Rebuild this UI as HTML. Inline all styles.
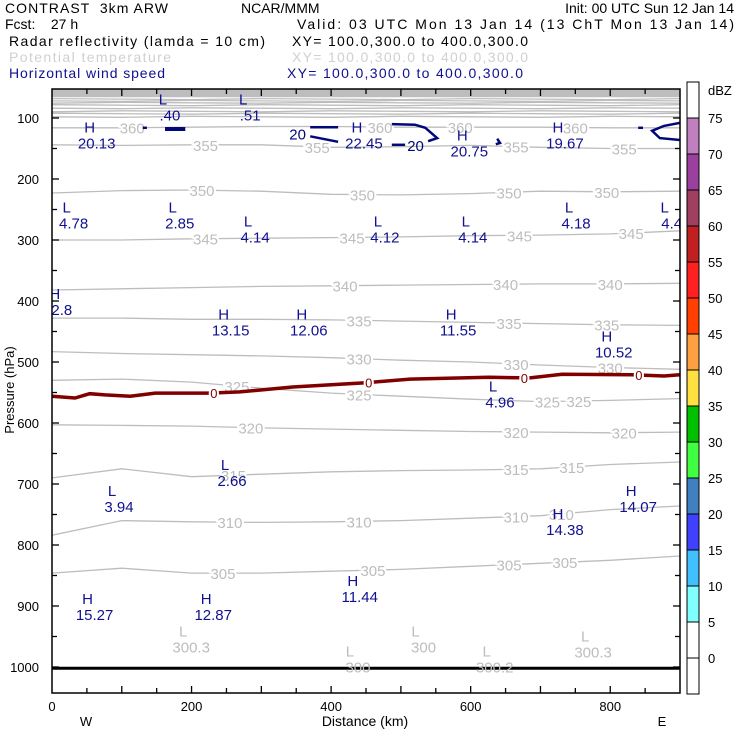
<!DOCTYPE html>
<html><head><meta charset="utf-8">
<style>
html,body{margin:0;padding:0;background:#fff;}
svg{display:block;font-family:"Liberation Sans",sans-serif;}
</style></head>
<body>
<svg id="chart" width="740" height="740" viewBox="0 0 740 740" xmlns="http://www.w3.org/2000/svg">
<g font-size="14">
<text x="5" y="13" xml:space="preserve" textLength="163">CONTRAST  3km ARW</text>
<text x="241" y="13">NCAR/MMM</text>
<text x="734" y="13" text-anchor="end">Init: 00 UTC Sun 12 Jan 14</text>
<text x="5" y="29" xml:space="preserve">Fcst:    27 h</text>
<text x="734" y="29" text-anchor="end" textLength="437">Valid: 03 UTC Mon 13 Jan 14 (13 ChT Mon 13 Jan 14)</text>
<text x="9" y="46" textLength="256">Radar reflectivity (lamda = 10 cm)</text>
<text x="292" y="46" textLength="236">XY= 100.0,300.0 to 400.0,300.0</text>
<text x="9" y="62" fill="#d0d0d0" textLength="162">Potential temperature</text>
<text x="292" y="62" fill="#d0d0d0" textLength="236">XY= 100.0,300.0 to 400.0,300.0</text>
<text x="9" y="78" fill="#101090" textLength="156">Horizontal wind speed</text>
<text x="287" y="78" fill="#101090" textLength="236">XY= 100.0,300.0 to 400.0,300.0</text>
</g>
<g id="plot"></g>
<g id="cbar"></g>
</svg>
<script>
// ---- data ----
const kmGrid = [0,100,200,300,400,500,600,700,800,900];
const thetaLevels = [360,355,350,345,340,335,330,325,320,315,310,305];
const theta360 = [116,116,115,114,114,115,115,115,116,116];
const theta355 = [144,145,144,144,148,147,145,148,150,150];
const theta350 = [223,219,218,220,225,226,224,220,221,220];
const theta345 = [300,300,298,297,296,295,293,292,290,285];
const theta340 = [382,380,378,376,375,374,373,372,372,371];
const theta335 = [428,428,430,430,431,433,435,437,439,440];
const theta330 = [483,486,488,490,493,497,500,505,509,512];
const theta325 = [530,528,533,543,551,556,561,565,563,560];
const theta320 = [603,604,605,608,610,612,614,615,616,615];
const theta315 = [690,675,688,684,680,678,677,675,668,664];
const theta310 = [784,760,762,763,762,760,756,752,742,736];
const theta305 = [846,838,846,846,843,840,835,830,825,818];
const thetaUpper = [69,72,75,79,84,89,93,98];
const thetaLabelKm = {360:[115,470,585,750],355:[220,380,665,820],350:[215,445,655,795],345:[220,430,670,830],340:[420,650,800],335:[440,655,795],330:[440,665,800],325:[265,440,710,755],320:[285,665,820],315:[260,665,745],310:[255,440,665,730],305:[245,460,655,735]};
const dbzKm = [0,33,54,76,112,148,226,269,345,450,513,626,685,731,831,877,900];
const dbzHpa = [556,559,552,554,556,551,551,549,541,534,528,525,526,520,521,523,521];
const dbzLabelKm = [232,454,677,841];
const windSegsKm = [[130,136],[162,191],[370,410],[370,410],[487,520,535,552,539],[487,506],[638,642,636],[840,847],[900,877,860,871,900]];
const windSegsHpa = [[116,116],[118,118],[115,115],[130,139],[110,111,116,133,138],[144,144],[134,141,143],[116,116],[108,113,121,133,136]];
const extremaType = ["H","L","L","H","H","H","L","L","L","L","L","L","L","H","H","H","H","H","L","L","L","H","H","H","H","H"];
const extremaVal = ["20.13",".40",".51","22.45","20.75","19.67","4.78","2.85","4.14","4.12","4.14","4.18","4.4","2.8","13.15","12.06","11.55","10.52","4.96","2.66","3.94","14.38","14.07","11.44","15.27","12.87"];
const extremaKm = [54,159,274,437,588,725,21,173,281,467,593,741,878,4,246,358,572,795,632,248,86,725,830,431,51,221];
const extremaHpa = [124,78,78,124,137,124,255,255,278,278,278,255,255,397,430,430,430,466,548,677,720,757,720,867,897,897];
const thetaMinVal = ["300.3","300","300","300.2","300.3"];
const thetaMinKm = [188,427,521,623,764];
const thetaMinHpa = [950,983,950,983,958];
const pTicks = [100,200,300,400,500,600,700,800,900,1000];
const xTicks = [0,200,400,600,800];
const cbLevels = [75,70,65,60,55,50,45,40,35,30,25,20,15,10,5,0];
const cbColors = ["#ffffff","#c080c0","#9c40a0","#a04060","#c02020","#ff2020","#ff4000","#ffa040","#ffe040","#00c000","#40ff40","#4080c0","#4040ff","#40c0ff","#80ffff","#ffffff","#ffffff"];

// ---- scales ----
const X0=52, X1=680, Y0=89, Y1=693;
const X = km => X0 + km*0.6978;
const Y = p => 118 + (p-100)*0.61;
const NS="http://www.w3.org/2000/svg";
function mk(tag, parent){const e=document.createElementNS(NS,tag);parent.appendChild(e);return e;}
const plot=document.getElementById('plot');
const cbar=document.getElementById('cbar');
function pts(kms,ps){return kms.map((k,i)=>X(k).toFixed(1)+','+Y(ps[i]).toFixed(1)).join(' ');}
function interp(kms,ps,k){for(let i=0;i<kms.length-1;i++){if(k>=kms[i]&&k<=kms[i+1]){const t=(k-kms[i])/(kms[i+1]-kms[i]);return ps[i]+t*(ps[i+1]-ps[i]);}}return ps[ps.length-1];}

const defs=mk('defs',plot);
const cp=mk('clipPath',defs);cp.setAttribute('id','clip');
const cr=mk('rect',cp);cr.setAttribute('x',X0);cr.setAttribute('y',Y0);cr.setAttribute('width',X1-X0);cr.setAttribute('height',Y1-Y0);
const inner=mk('g',plot);inner.setAttribute('clip-path','url(#clip)');



const band=mk('rect',inner);


band.setAttribute('x',X0);band.setAttribute('y',Y0);band.setAttribute('width',X1-X0);band.setAttribute('height',Y(66)-Y0);band.setAttribute('fill','#bdbdbd');
thetaUpper.forEach((p,i)=>{
  const l=mk('polyline',inner);
  
  
  l.setAttribute('points',pts(kmGrid,kmGrid.map((k,j)=>p+((i+j)%3-1)*0.8)));
  l.setAttribute('fill','none');l.setAttribute('stroke','#bdbdbd');l.setAttribute('stroke-width','1.3');
});

const thetaSeries=[theta360,theta355,theta350,theta345,theta340,theta335,theta330,theta325,theta320,theta315,theta310,theta305];
thetaSeries.forEach((ser,i)=>{
  const l=mk('polyline',inner);
  
  
  l.setAttribute('points',pts(kmGrid,ser));
  l.setAttribute('fill','none');l.setAttribute('stroke','#bdbdbd');l.setAttribute('stroke-width','1.3');
});
thetaSeries.forEach((ser,i)=>{
  const lev=thetaLevels[i];
  (thetaLabelKm[lev]||[]).forEach(k=>{
    const t=mk('text',inner);
    
    
    t.setAttribute('x',X(k));t.setAttribute('y',Y(interp(kmGrid,ser,k))+6);
    t.setAttribute('text-anchor','middle');t.setAttribute('font-size','15');t.setAttribute('fill','#bdbdbd');
    t.setAttribute('stroke','#fff');t.setAttribute('stroke-width','4');t.setAttribute('paint-order','stroke');
    t.textContent=lev;
  });
});

const dl=mk('polyline',inner);


dl.setAttribute('points',pts(dbzKm,dbzHpa));
dl.setAttribute('fill','none');dl.setAttribute('stroke','#800000');dl.setAttribute('stroke-width','3.5');
dbzLabelKm.forEach(k=>{
  const t=mk('text',inner);
  
  
  t.setAttribute('x',X(k));t.setAttribute('y',Y(interp(dbzKm,dbzHpa,k))+5);
  t.setAttribute('text-anchor','middle');t.setAttribute('font-size','13');t.setAttribute('fill','#800000');
  t.setAttribute('stroke','#fff');t.setAttribute('stroke-width','4');t.setAttribute('paint-order','stroke');
  t.textContent='0';
});

windSegsKm.forEach((ks,i)=>{
  const l=mk('polyline',inner);
  
  
  l.setAttribute('points',pts(ks,windSegsHpa[i]));
  l.setAttribute('fill','none');l.setAttribute('stroke','#00087a');l.setAttribute('stroke-width',i==1?'4':'2.5');
});
const w1=mk('text',inner);


w1.setAttribute('x',X(352));w1.setAttribute('y',Y(125)+6);w1.setAttribute('text-anchor','middle');w1.setAttribute('font-size','15');w1.setAttribute('fill','#00087a');w1.textContent='20';
const w2=mk('text',inner);


w2.setAttribute('x',X(521));w2.setAttribute('y',Y(144)+6);w2.setAttribute('text-anchor','middle');w2.setAttribute('font-size','15');w2.setAttribute('fill','#00087a');w2.textContent='20';

const sl=mk('line',inner);


sl.setAttribute('x1',X0);sl.setAttribute('x2',X1);sl.setAttribute('y1',Y(1002));sl.setAttribute('y2',Y(1002));sl.setAttribute('stroke','#000');sl.setAttribute('stroke-width','3');

extremaType.forEach((ty,i)=>{
  const x=X(extremaKm[i]), y=Y(extremaHpa[i]);
  const a=mk('text',inner);
  
  
  a.setAttribute('x',x);a.setAttribute('y',y);a.setAttribute('text-anchor','middle');a.setAttribute('font-size','15');a.setAttribute('fill','#101090');a.textContent=ty;
  const b=mk('text',inner);
  
  
  b.setAttribute('x',x+7);b.setAttribute('y',y+16);b.setAttribute('text-anchor','middle');b.setAttribute('font-size','15');b.setAttribute('fill','#101090');b.textContent=extremaVal[i];
});
thetaMinVal.forEach((v,i)=>{
  const x=X(thetaMinKm[i]), y=Y(thetaMinHpa[i]);
  const a=mk('text',inner);
  
  
  a.setAttribute('x',x);a.setAttribute('y',y);a.setAttribute('text-anchor','middle');a.setAttribute('font-size','15');a.setAttribute('fill','#bdbdbd');a.textContent='L';
  const b=mk('text',inner);
  
  
  b.setAttribute('x',x+8);b.setAttribute('y',y+16);b.setAttribute('text-anchor','middle');b.setAttribute('font-size','15');b.setAttribute('fill','#bdbdbd');b.textContent=v;
});

const fr=mk('rect',plot);


fr.setAttribute('x',X0);fr.setAttribute('y',Y0);fr.setAttribute('width',X1-X0);fr.setAttribute('height',Y1-Y0);fr.setAttribute('fill','none');fr.setAttribute('stroke','#000');fr.setAttribute('stroke-width','1.5');

function tick(x1,y1,x2,y2,name){const l=mk('line',plot);
  
  
  l.setAttribute('x1',x1);l.setAttribute('y1',y1);l.setAttribute('x2',x2);l.setAttribute('y2',y2);l.setAttribute('stroke','#000');l.setAttribute('stroke-width','1.3');}
for(let p=100;p<=1000;p+=50){const y=Y(p);const L=p%100==0?7:5;tick(X0,y,X0+L,y,'y-tick');tick(X1,y,X1-L,y,'y-tick');}
for(let k=50;k<900;k+=50){const x=X(k);const L=k%100==0?7:5;tick(x,Y1,x,Y1-L,'x-tick');tick(x,Y0,x,Y0+L,'x-tick');}
pTicks.forEach(p=>{const t=mk('text',plot);
  
  
  t.setAttribute('x',39);t.setAttribute('y',Y(p)+5);t.setAttribute('text-anchor','end');t.setAttribute('font-size','13');t.textContent=p;});
xTicks.forEach(k=>{const t=mk('text',plot);
  
  
  t.setAttribute('x',X(k));t.setAttribute('y',711);t.setAttribute('text-anchor','middle');t.setAttribute('font-size','13');t.textContent=k;});
const xt=mk('text',plot);


xt.setAttribute('x',365);xt.setAttribute('y',726);xt.setAttribute('text-anchor','middle');xt.setAttribute('font-size','14');xt.textContent='Distance (km)';
const ww=mk('text',plot);


ww.setAttribute('x',86);ww.setAttribute('y',726);ww.setAttribute('text-anchor','middle');ww.setAttribute('font-size','13');ww.textContent='W';
const ee=mk('text',plot);


ee.setAttribute('x',662);ee.setAttribute('y',726);ee.setAttribute('text-anchor','middle');ee.setAttribute('font-size','13');ee.textContent='E';
const yt=mk('text',plot);


yt.setAttribute('transform','translate(14,390) rotate(-90)');yt.setAttribute('text-anchor','middle');yt.setAttribute('font-size','13');yt.textContent='Pressure (hPa)';

const cbTop=82, cbStep=36, cbX=687, cbW=12;
cbColors.forEach((c,i)=>{const r=mk('rect',cbar);
  
  
  r.setAttribute('x',cbX);r.setAttribute('y',cbTop+i*cbStep);r.setAttribute('width',cbW);r.setAttribute('height',cbStep);r.setAttribute('fill',c);r.setAttribute('stroke','#000');r.setAttribute('stroke-width','1');});
cbLevels.forEach((v,i)=>{const t=mk('text',cbar);
  
  
  t.setAttribute('x',708);t.setAttribute('y',cbTop+(i+1)*cbStep+5);t.setAttribute('font-size','13');t.textContent=v;});
const du=mk('text',cbar);


du.setAttribute('x',708);du.setAttribute('y',95);du.setAttribute('font-size','13');du.textContent='dBZ';
</script>
</body></html>
